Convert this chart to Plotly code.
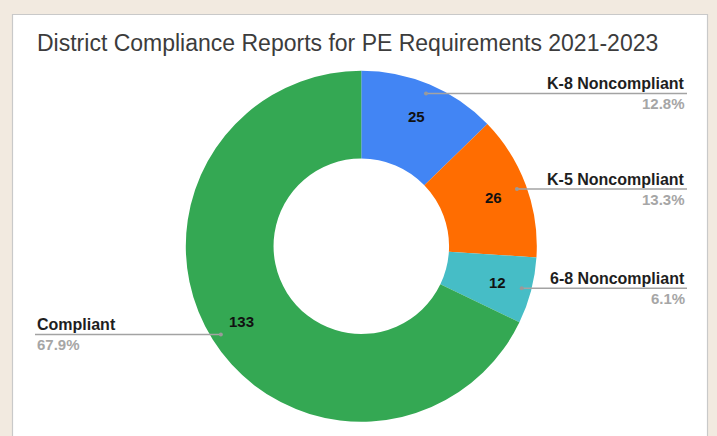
import numpy as np
import plotly.graph_objects as go

# ---- data ----
labels = ["K-8 Noncompliant", "K-5 Noncompliant", "6-8 Noncompliant", "Compliant"]
values = [25, 26, 12, 133]
colors = ["#4285F4", "#FF6D01", "#46BDC6", "#34A853"]
title_text = "District Compliance Reports for PE Requirements 2021-2023"

W, H = 717, 436
cx, cy, R = 361.3, 246.2, 175.5   # pie centre / radius in px (from top-left)


def px(x):
    return x / W


def py(y):
    return 1 - y / H


fig = go.Figure()
fig.add_trace(go.Pie(
    labels=labels, values=values, sort=False, direction="clockwise", rotation=0,
    hole=0.5, marker=dict(colors=colors, line=dict(width=0)),
    textinfo="none", hoverinfo="label+value+percent", showlegend=False,
    domain=dict(x=[px(cx - R), px(cx + R)], y=[py(cy + R), py(cy - R)]),
))

vals = np.array(values, dtype=float)
total = vals.sum()
frac = vals / total
cum = np.cumsum(frac) - frac / 2
theta = np.deg2rad(cum * 360)

shapes = [
    dict(type="rect", xref="paper", yref="paper", layer="below",
         x0=px(12.5), x1=px(707.5), y0=py(H + 10), y1=py(14.5),
         fillcolor="white", line=dict(color="#c9c9c9", width=1.2)),
]
annotations = [
    dict(text=title_text, xref="paper", yref="paper", x=px(35), y=py(43),
         xanchor="left", yanchor="middle", showarrow=False,
         font=dict(family="Liberation Sans, Arial", size=23, color="#3c3c3c")),
]

for lab, v, f, t in zip(labels, values, frac, theta):
    # value inside
    rv = 0.805 * R
    annotations.append(dict(
        text=f"<b>{v}</b>", xref="paper", yref="paper",
        x=px(cx + rv * np.sin(t)), y=py(cy - rv * np.cos(t)),
        xanchor="center", yanchor="middle", showarrow=False,
        font=dict(family="Liberation Sans, Arial", size=15, color="#111111")))
    # leader dot + line
    rd = 0.945 * R
    dx, dy = cx + rd * np.sin(t), cy - rd * np.cos(t)
    right = np.sin(t) > 0
    xe = 687 if right else 35
    shapes.append(dict(type="line", xref="paper", yref="paper",
                       x0=px(dx), x1=px(xe), y0=py(dy), y1=py(dy),
                       line=dict(color="#a3a3a3", width=1.5)))
    shapes.append(dict(type="circle", xref="paper", yref="paper",
                       x0=px(dx - 2), x1=px(dx + 2), y0=py(dy + 2), y1=py(dy - 2),
                       fillcolor="#9a9a9a", line=dict(width=0)))
    anchor = "right" if right else "left"
    annotations.append(dict(
        text=f"<b>{lab}</b>", xref="paper", yref="paper", x=px(xe), y=py(dy - 9.5),
        xanchor=anchor, yanchor="middle", showarrow=False,
        font=dict(family="Liberation Sans, Arial", size=16, color="#1e1e1e")))
    annotations.append(dict(
        text=f"<b>{f * 100:.1f}%</b>", xref="paper", yref="paper", x=px(xe), y=py(dy + 10.5),
        xanchor=anchor, yanchor="middle", showarrow=False,
        font=dict(family="Liberation Sans, Arial", size=15, color="#a6a6a6")))

fig.update_layout(
    width=W, height=H, margin=dict(l=0, r=0, t=0, b=0),
    paper_bgcolor="#F2EAE0", plot_bgcolor="#F2EAE0",
    shapes=shapes, annotations=annotations,
)

fig.write_html("out.html", config={"displayModeBar": False},
               post_script="document.body.style.margin='0';")
